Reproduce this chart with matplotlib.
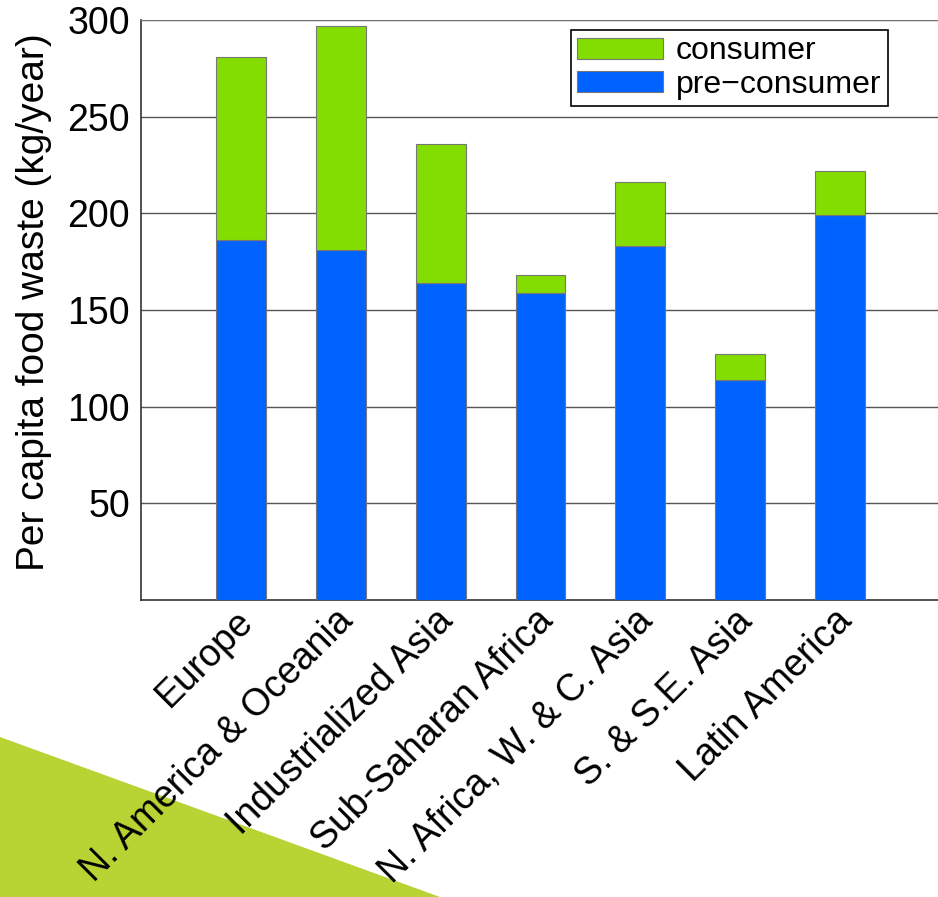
import matplotlib.pyplot as plt
import matplotlib.transforms as mtransforms
import numpy as np
from matplotlib.patches import Polygon

regions = [
    "Europe",
    "N. America & Oceania",
    "Industrialized Asia",
    "Sub-Saharan Africa",
    "N. Africa, W. & C. Asia",
    "S. & S.E. Asia",
    "Latin America",
]
pre_consumer = [186, 181, 164, 159, 183, 114, 199]
consumer = [95, 116, 72, 9, 33, 13, 23]
yticks = [50, 100, 150, 200, 250, 300]

GREEN = "#84dd00"
BLUE = "#0062ff"

plt.rcParams["font.family"] = ["Liberation Sans", "DejaVu Sans"]

fig = plt.figure(figsize=(9.38, 8.97), dpi=100)

# decorative triangle in the lower left corner, behind everything
tri = Polygon([[0, 0], [0, 160 / 897], [440 / 938, 0]], closed=True,
              transform=fig.transFigure, facecolor="#b8d334", edgecolor="none",
              zorder=-5)
fig.patches.append(tri)

ax = fig.add_axes([141 / 938, 1 - 600 / 897, 1 - 141 / 938, 580 / 897])
ax.set_facecolor("none")
x = np.arange(1, len(regions) + 1)
ax.bar(x, pre_consumer, width=0.5, color=BLUE, edgecolor="#777777",
       linewidth=0.8, label="pre\u2212consumer", zorder=3)
ax.bar(x, consumer, width=0.5, bottom=pre_consumer, color=GREEN,
       edgecolor="#777777", linewidth=0.8, label="consumer", zorder=3)

ax.set_xlim(0, 7.98)
ax.set_ylim(0, 300)
ax.set_yticks(yticks)
ax.set_yticklabels([str(v) for v in yticks], fontsize=27)
ax.yaxis.grid(True, color="#555555", linewidth=1.0, zorder=0)
ax.set_axisbelow(True)
ax.tick_params(length=0, pad=8)

ax.set_xticks(x)
ax.set_xticklabels(regions, rotation=45, ha="right", rotation_mode="anchor",
                   fontsize=27)
ax.tick_params(axis="x", pad=2)
shift = mtransforms.ScaledTranslation(-6 / 100, 0, fig.dpi_scale_trans)
for lbl in ax.get_xticklabels():
    lbl.set_transform(lbl.get_transform() + shift)

ax.set_ylabel("Per capita food waste (kg/year)", fontsize=28)
ax.yaxis.set_label_coords(-0.112, 0.514)

for side in ["left", "bottom"]:
    ax.spines[side].set_color("#333333")
    ax.spines[side].set_linewidth(1.2)
ax.spines["top"].set_color("#777777")
ax.spines["right"].set_visible(False)

handles, labels = ax.get_legend_handles_labels()
leg = ax.legend(handles[::-1], labels[::-1], loc="upper right",
                bbox_to_anchor=((888 - 141) / 797, (600 - 30) / 580),
                bbox_transform=ax.transAxes, fontsize=23, frameon=True,
                fancybox=False, edgecolor="black", framealpha=1,
                handlelength=2.7, handleheight=0.65, borderpad=0.2,
                borderaxespad=0, labelspacing=0.1, handletextpad=0.4)
leg.get_frame().set_linewidth(1.2)

fig.savefig("out.png", dpi=100)
